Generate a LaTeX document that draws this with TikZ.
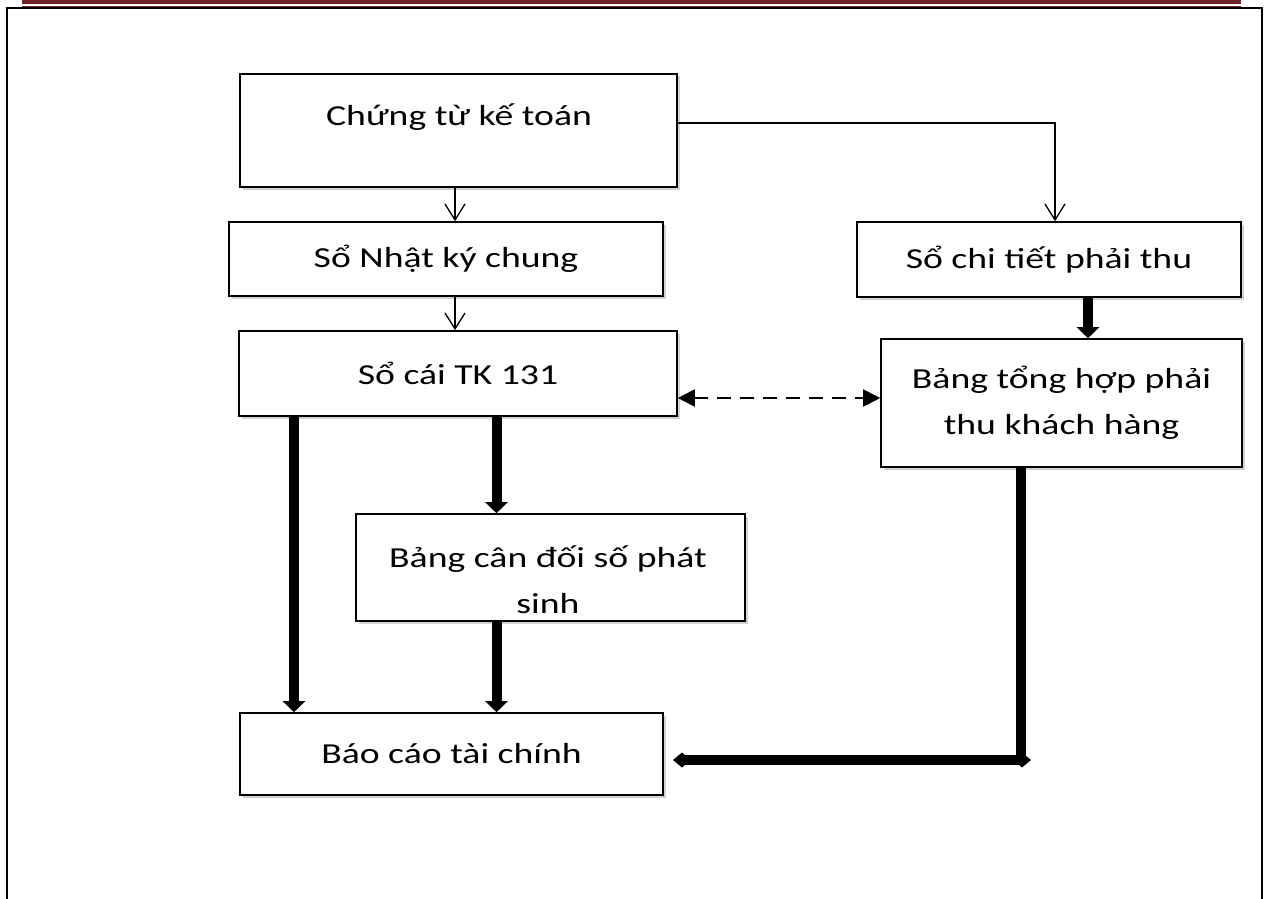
\documentclass[tikz,border=0pt]{standalone}
\usepackage{fontspec}
\setmainfont{Carlito}[FakeStretch=1.3]
\usetikzlibrary{arrows.meta,shadows}
\definecolor{maroon}{RGB}{108,36,36}
\begin{document}
\begin{tikzpicture}[x=1pt,y=-1pt,
  txt/.style={font=\fontsize{29}{46}\selectfont, inner sep=0pt, align=center},
  box/.style={draw, line width=1.6pt, fill=white, inner sep=0pt,
    drop shadow={shadow xshift=2.5pt, shadow yshift=-2.5pt, fill=black!35},
    font=\fontsize{29}{46}\selectfont, align=center},
  thinarrow/.style={line width=1.3pt, -{Straight Barb[length=16pt,width=20pt,line width=1.3pt]}},
  thickarrow/.style={line width=10pt, -{Triangle[length=11pt,width=22pt]}},
  thickline/.style={line width=10pt},
  dasharrow/.style={line width=2pt, dash pattern=on 14pt off 9pt,
    {Triangle[length=17pt,width=17pt]}-{Triangle[length=17pt,width=17pt]}},
  diamline/.style={line width=10pt, {Diamond[length=18pt,width=15pt]}-{Diamond[length=18pt,width=15pt]}}
]
\useasboundingbox (0,0) rectangle (1266,899);
% header bars
\fill[maroon] (22,0) rectangle (1241,4.2);
\fill[maroon] (22,5.6) rectangle (1241,7.4);
% page frame
\draw[line width=2pt] (7,899) -- (7,8) -- (1262,8) -- (1262,899);

% boxes
\node[box, minimum width=437pt, minimum height=113pt] (ct) at (458.5,130.5) {};
\node[txt] (ctt) at (459,117) {Chứng từ kế toán};
\node[box, minimum width=434pt, minimum height=74pt] (nkc) at (446,259) {Sổ Nhật ký chung};
\node[box, minimum width=438pt, minimum height=85pt] (sc) at (458,373.5) {Sổ cái TK 131};
\node[box, minimum width=384pt, minimum height=75pt] (ctpt) at (1049,259.5) {Sổ chi tiết phải thu};
\node[box, minimum width=361pt, minimum height=128pt] (bth) at (1061.5,403) {Bảng tổng hợp phải\\thu khách hàng};
\node[box, minimum width=389pt, minimum height=107pt] (bcd) at (550.5,567.5) {};
\node[txt] (bcdt) at (548,580) {Bảng cân đối số phát\\sinh};
\node[box, minimum width=423pt, minimum height=82pt] (bctc) at (451.5,754) {Báo cáo tài chính};

% helper coordinates
\coordinate (xa) at (455,0);
\coordinate (pr) at (1055,123);
\coordinate (xb) at (1088,0);
\coordinate (yd) at (0,398);
\coordinate (xl) at (294,0);
\coordinate (xm) at (496.5,0);
\coordinate (xr) at (1021,0);
\coordinate (q0) at (1021,760);
\coordinate (q1) at (1031,760);
\coordinate (q2) at (673,760);

% connectors
\draw[thinarrow] (ct.south -| xa) ++(0,-2) -- (nkc.north -| xa);
\draw[thinarrow] (nkc.south -| xa) -- (sc.north -| xa);
\draw[thinarrow] (ct.east |- pr) -| (ctpt.north -| pr);
\draw[thickarrow] (ctpt.south -| xb) -- (bth.north -| xb);
\draw[dasharrow] (sc.east |- yd) -- (bth.west |- yd);
\draw[thickarrow] (sc.south -| xl) -- (bctc.north -| xl);
\draw[thickarrow] (sc.south -| xm) -- (bcd.north -| xm);
\draw[thickarrow] (bcd.south -| xm) -- (bctc.north -| xm);
\draw[thickline] (bth.south -| xr) -- (q0);
\draw[diamline] (q1) -- (q2);
\end{tikzpicture}
\end{document}
